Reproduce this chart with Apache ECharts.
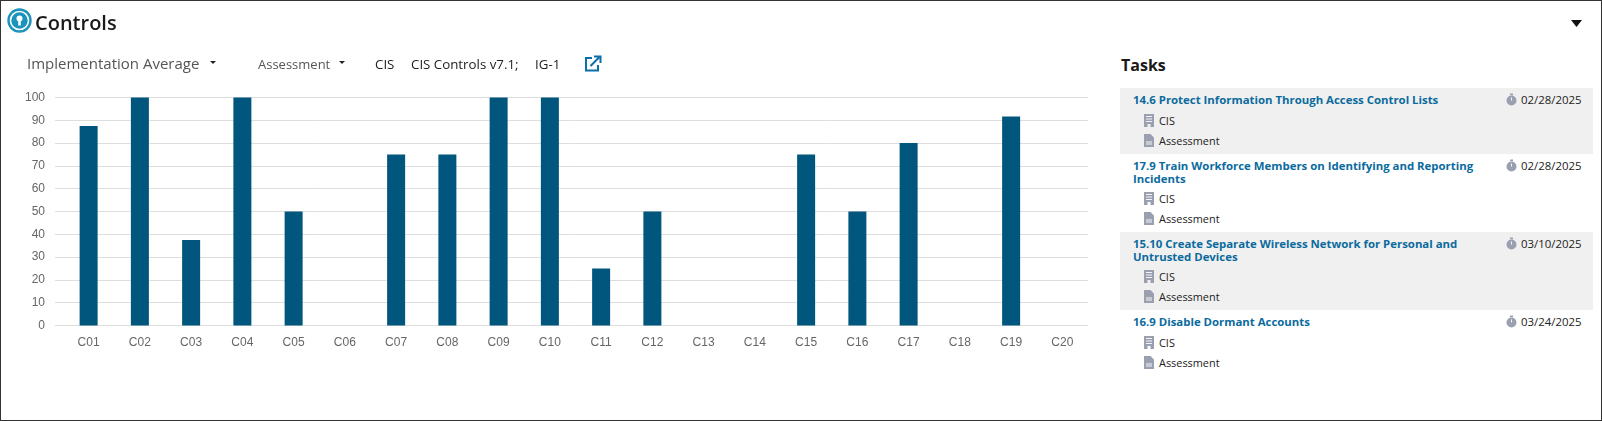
<!DOCTYPE html>
<html>
<head>
<meta charset="utf-8">
<title>Controls</title>
<script src="https://cdn.jsdelivr.net/npm/echarts@6/dist/echarts.min.js"></script>
<style>
  * { box-sizing: border-box; }
  html, body { margin: 0; padding: 0; background: #fff; }
  body { width: 1602px; height: 421px; overflow: hidden; position: relative; font-family: "Open Sans", sans-serif; color: #222; }
  #frame { position: absolute; left: 0; top: 0; width: 1602px; height: 421px; border: 1px solid #333; pointer-events: none; }
  #chart { position: absolute; left: 0; top: 0; width: 1090px; height: 360px; }
  .abs { position: absolute; white-space: nowrap; line-height: 20px; }
  h2 { position: absolute; margin: 0; left: 35px; top: 9px; font-size: 20px; line-height: 28px; font-weight: 600; color: #1a1a1a; }
  h3 { position: absolute; margin: 0; left: 1121px; top: 52px; font-size: 16px; line-height: 26px; font-weight: 700; color: #1a1a1a; }
  .caret { position: absolute; width: 0; height: 0; border-left: 3.5px solid transparent; border-right: 3.5px solid transparent; border-top: 3.5px solid #222; }
  #tasks { position: absolute; left: 1120px; top: 88px; width: 473px; }
  .task { position: relative; height: 66px; padding: 5px 0 0 13px; }
  .task.two { height: 78px; }
  .task:nth-child(odd) { background: #f0f0f0; }
  .task .name { width: 345px; font-size: 11.4px; line-height: 13px; font-weight: 700; color: #0b6b9e; }
  .task .meta { display: flex; align-items: center; height: 20px; margin-left: 11px; font-size: 10.9px; color: #222; }
  .task .name + .meta { margin-top: 4px; }
  .task.two .name + .meta { margin-top: 3px; }
  .task .meta svg { margin-right: 5px; }
  .task .due { position: absolute; left: 386px; top: 4px; display: flex; align-items: center; height: 14px; font-size: 11.4px; }
  .task .due svg { margin-right: 4px; }
</style>
</head>
<body>
<div id="chart"></div>

<svg class="abs" style="left:7px;top:8px" width="25" height="25" viewBox="0 0 25 25">
  <circle cx="12.5" cy="12.5" r="11" fill="#fff" stroke="#1a93bd" stroke-width="2.4"/>
  <circle cx="12.5" cy="12.5" r="8.2" fill="#1a93bd"/>
  <circle cx="12.5" cy="10.5" r="3" fill="#fff"/>
  <rect x="11.2" y="11" width="2.6" height="6.5" fill="#fff"/>
</svg>
<h2>Controls</h2>
<svg class="abs" style="left:1571px;top:20px" width="11" height="7" viewBox="0 0 11 7"><path d="M0 0H11L5.5 7Z" fill="#111"/></svg>

<div class="abs" style="left:27px;top:53px;font-size:15px;color:#555">Implementation Average</div>
<div class="caret" style="left:210px;top:61px"></div>
<div class="abs" style="left:258px;top:54px;font-size:13px;color:#555">Assessment</div>
<div class="caret" style="left:339px;top:61px"></div>
<div class="abs" style="left:375px;top:54px;font-size:13.3px">CIS</div>
<div class="abs" style="left:411px;top:54px;font-size:13.3px">CIS Controls v7.1;</div>
<div class="abs" style="left:535px;top:54px;font-size:13.3px">IG-1</div>
<svg class="abs" style="left:584px;top:55px" width="18" height="17" viewBox="0 0 18 17">
  <path d="M8 3H2V15.5H14V10" fill="none" stroke="#0b6fa8" stroke-width="2"/>
  <path d="M6.5 11L15 2.5M10 1.5H16.5V8" fill="none" stroke="#0b6fa8" stroke-width="2"/>
</svg>

<h3>Tasks</h3>
<div id="tasks"></div>
<div id="frame"></div>

<script>
const categories = ["C01", "C02", "C03", "C04", "C05", "C06", "C07", "C08", "C09", "C10",
  "C11", "C12", "C13", "C14", "C15", "C16", "C17", "C18", "C19", "C20"];
const averages = [87.5, 100, 37.5, 100, 50, 0, 75, 75, 100, 100,
  25, 50, 0, 0, 75, 50, 80, 0, 91.67, 0];

const taskNames = [
  "14.6 Protect Information Through Access Control Lists",
  "17.9 Train Workforce Members on Identifying and Reporting Incidents",
  "15.10 Create Separate Wireless Network for Personal and Untrusted Devices",
  "16.9 Disable Dormant Accounts",
];
const taskDates = ["02/28/2025", "02/28/2025", "03/10/2025", "03/24/2025"];
const taskTwoLines = [false, true, true, false];

const buildingIcon = '<svg width="10" height="13" viewBox="0 0 10 13"><path d="M0 0H10V13H6.5V10H3.5V13H0Z" fill="#9aa0b0"/><path d="M2 2.5H8M2 5H8M2 7.5H8" stroke="#f4f4f6" stroke-width="1"/></svg>';
const fileIcon = '<svg width="10" height="13" viewBox="0 0 10 13"><path d="M0 0H6.5L10 3.5V13H0Z" fill="#9aa0b0"/><path d="M2 8H8M2 10H8" stroke="#f4f4f6" stroke-width="1"/></svg>';
const timerIcon = '<svg width="11" height="13" viewBox="0 0 11 13"><circle cx="5.5" cy="7.5" r="5" fill="#9aa0b0"/><rect x="4" y="0.5" width="3" height="1.6" fill="#9aa0b0"/><path d="M5.5 4.5V7.5" stroke="#f4f4f6" stroke-width="1"/></svg>';

function renderTasks() {
  const holder = document.getElementById("tasks");
  holder.innerHTML = taskNames.map((name, i) => `
    <div class="task${taskTwoLines[i] ? " two" : ""}">
      <div class="name">${name}</div>
      <div class="meta">${buildingIcon}CIS</div>
      <div class="meta">${fileIcon}Assessment</div>
      <div class="due">${timerIcon}${taskDates[i]}</div>
    </div>`).join("");
}

function renderChart() {
  const chart = echarts.init(document.getElementById("chart"));
  chart.setOption({
    animation: false,
    grid: { left: 63, top: 97.5, width: 1025, height: 228 },
    xAxis: {
      type: "category",
      data: categories,
      axisLine: { lineStyle: { color: "#dedede" } },
      axisTick: { show: false },
      axisLabel: { color: "#666", fontFamily: "Liberation Sans", fontSize: 12, margin: 11, interval: 0 },
    },
    yAxis: {
      type: "value",
      min: 0,
      max: 100,
      interval: 10,
      axisLine: { show: false },
      axisTick: { show: true, length: 8, lineStyle: { color: "#dedede" } },
      axisLabel: { color: "#666", fontFamily: "Liberation Sans", fontSize: 12, margin: 18 },
      splitLine: { lineStyle: { color: "#dedede" } },
    },
    series: [
      {
        type: "bar",
        data: averages,
        barWidth: 18,
        itemStyle: { color: "#00567c" },
      },
    ],
  });
}

renderTasks();
renderChart();
</script>
</body>
</html>
